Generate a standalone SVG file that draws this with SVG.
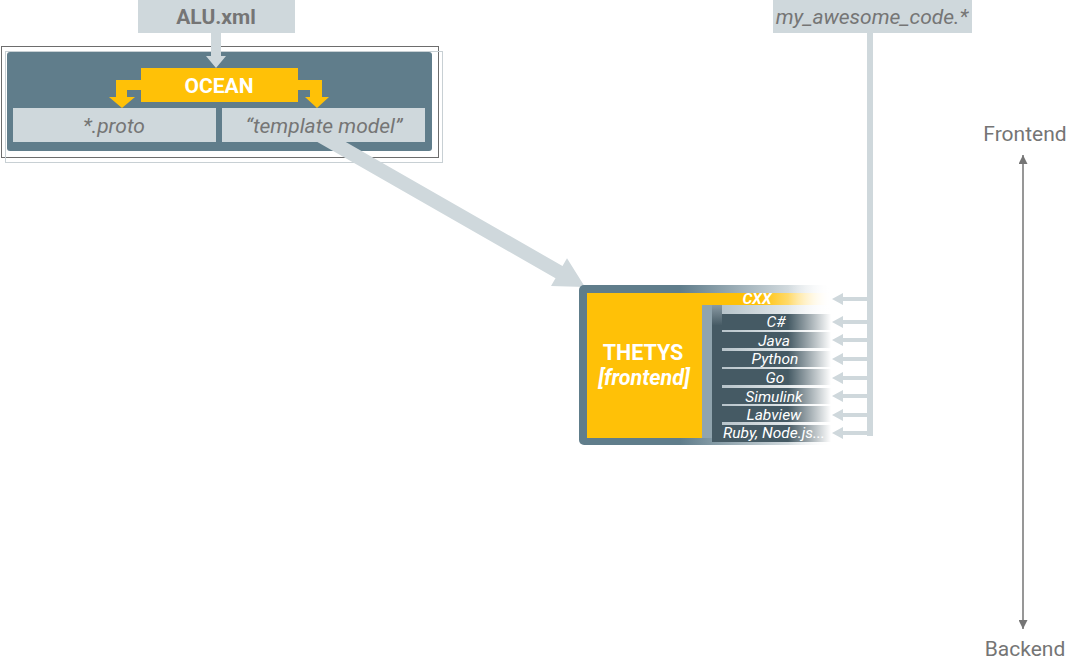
<svg xmlns="http://www.w3.org/2000/svg" width="1088" height="669" viewBox="0 0 1088 669">
<style>
text{font-family:Roboto,"Liberation Sans",sans-serif}
.lbl{fill:#757575;font-size:21px;text-anchor:middle}
.lang{fill:#ffffff;font-size:15.5px;font-style:italic;text-anchor:middle}
.lang.start{text-anchor:start}
.conn{fill:#cfd8dc}
.ax{stroke:#757575;stroke-width:1.5}
</style>
<defs>
<linearGradient id="frameG" gradientUnits="userSpaceOnUse" x1="680" y1="0" x2="831" y2="0">
<stop offset="0" stop-color="#607d8b"/><stop offset="1" stop-color="#ffffff"/>
</linearGradient>
<linearGradient id="rowsG" gradientUnits="userSpaceOnUse" x1="712" y1="0" x2="831" y2="0">
<stop offset="0" stop-color="#b0bec5"/><stop offset="1" stop-color="#ffffff"/>
</linearGradient>
<linearGradient id="cxxG" gradientUnits="userSpaceOnUse" x1="760" y1="0" x2="831" y2="0">
<stop offset="0" stop-color="#ffc107"/><stop offset="1" stop-color="#ffffff"/>
</linearGradient>
<linearGradient id="fadeG" gradientUnits="userSpaceOnUse" x1="788" y1="0" x2="831" y2="0">
<stop offset="0" stop-color="#ffffff" stop-opacity="0"/><stop offset="1" stop-color="#ffffff" stop-opacity="1"/>
</linearGradient>
<linearGradient id="colG" x1="0" y1="0" x2="0" y2="1">
<stop offset="0" stop-color="#8a9aa3"/><stop offset="0.15" stop-color="#455a64"/><stop offset="1" stop-color="#455a64"/>
</linearGradient>
<marker id="axHead" viewBox="0 0 10 10" refX="10" refY="5" markerWidth="9" markerHeight="9" markerUnits="userSpaceOnUse" orient="auto-start-reverse">
<path d="M0,0 L10,5 L0,10 z" fill="#757575"/>
</marker>
</defs>

<g id="ocean-frame">
<rect x="1.5" y="46.5" width="437" height="111" fill="none" stroke="#6d6d6d" stroke-width="1"/>
<rect x="5.5" y="51.5" width="437" height="111" fill="none" stroke="#c8d0d4" stroke-width="1"/>
<rect x="7" y="52" width="425" height="99" rx="3" fill="#607d8b"/>
</g>

<g id="connectors">
<!-- ALU -> OCEAN -->
<path class="conn" d="M211,33 H221 V56 H226 L216,68 L206,56 H211 Z"/>
<!-- template model -> THETYS -->
<path class="conn" d="M323.5,129.3 L562.5,266 L567,258.2 L585,287 L551,286 L555.5,278.2 L316.5,141.5 Z"/>
<!-- my_awesome_code vertical line -->
<rect class="conn" x="867" y="33" width="6" height="403"/>
<!-- language arrows -->
<g id="lang-arrows" fill="#cfd8dc">
<path d="M869,297 V301 H843 V305 L832,299 L843,293 V297 Z"/>
<path d="M869,320 V324 H843 V328 L832,322 L843,316 V320 Z"/>
<path d="M869,338 V342 H843 V346 L832,340 L843,334 V338 Z"/>
<path d="M869,357 V361 H843 V365 L832,359 L843,353 V357 Z"/>
<path d="M869,376 V380 H843 V384 L832,378 L843,372 V376 Z"/>
<path d="M869,394 V398 H843 V402 L832,396 L843,390 V394 Z"/>
<path d="M869,413 V417 H843 V421 L832,415 L843,409 V413 Z"/>
<path d="M869,431 V435 H843 V439 L832,433 L843,427 V431 Z"/>
</g>
<!-- axis -->
<line class="ax" x1="1023" y1="155" x2="1023" y2="629" marker-start="url(#axHead)" marker-end="url(#axHead)"/>
</g>

<g id="alu">
<rect x="138" y="0" width="157" height="33" fill="#cfd8dc"/>
<text x="216" y="24" class="lbl" font-weight="bold" fill="#6d6d6d">ALU.xml</text>
</g>

<g id="ocean">
<path d="M141,80 H116 V97 H109 L122,108 L135,97 H127 V90 H141 Z" fill="#ffc107"/>
<path d="M298,80 H322 V97 H329 L317,108 L305,97 H310 V90 H298 Z" fill="#ffc107"/>
<rect x="141" y="68" width="157" height="34" fill="#ffc107"/>
<text x="219" y="93" font-size="21" font-weight="bold" fill="#ffffff" text-anchor="middle">OCEAN</text>
</g>

<g id="proto">
<rect x="13" y="108" width="203" height="34" fill="#cfd8dc"/>
<text x="114" y="133" class="lbl" font-style="italic">*.proto</text>
</g>

<g id="template-model">
<rect x="222" y="108" width="203" height="34" fill="#cfd8dc"/>
<text x="324" y="133" class="lbl" font-style="italic">“template model”</text>
</g>

<g id="my-awesome-code">
<rect x="773" y="0" width="199" height="33" fill="#cfd8dc"/>
<text x="872" y="24" class="lbl" font-style="italic">my_awesome_code.*</text>
</g>

<g id="thetys">
<rect x="579" y="285" width="252" height="160" rx="5" fill="url(#frameG)"/>
<rect x="712" y="305" width="119" height="137" fill="url(#rowsG)"/>
<rect x="702" y="293" width="129" height="12" fill="url(#cxxG)"/>
<rect x="702" y="305" width="10" height="133" fill="#90a4ae"/>
<rect x="712" y="305" width="10" height="137" fill="url(#colG)"/>
<g fill="#455a64">
<rect x="722" y="314" width="109" height="16"/>
<rect x="722" y="332" width="109" height="16"/>
<rect x="722" y="351" width="109" height="16"/>
<rect x="722" y="369" width="109" height="16"/>
<rect x="722" y="388" width="109" height="16"/>
<rect x="722" y="406" width="109" height="16"/>
<rect x="722" y="425" width="109" height="17"/>
</g>
<rect x="587" y="293" width="115" height="145" fill="#ffc107"/>
<text x="643" y="360" font-size="21.5" font-weight="bold" fill="#ffffff" text-anchor="middle">THETYS</text>
<text x="644" y="385" font-size="21.5" font-weight="bold" font-style="italic" fill="#ffffff" text-anchor="middle">[frontend]</text>
<text x="757" y="304" class="lang" font-weight="bold">CXX</text>
<text x="776" y="327" class="lang">C#</text>
<text x="774" y="346" class="lang">Java</text>
<text x="775" y="364" class="lang">Python</text>
<text x="775" y="383" class="lang">Go</text>
<text x="774" y="402" class="lang">Simulink</text>
<text x="774" y="420" class="lang">Labview</text>
<text x="723" y="438" class="lang start">Ruby, Node.js...</text>
<rect x="788" y="284" width="43" height="162" fill="url(#fadeG)"/>
</g>

<g id="axis-labels">
<text x="1025" y="141" font-size="21" fill="#757575" text-anchor="middle">Frontend</text>
<text x="1025" y="656" font-size="21" fill="#757575" text-anchor="middle">Backend</text>
</g>
</svg>
